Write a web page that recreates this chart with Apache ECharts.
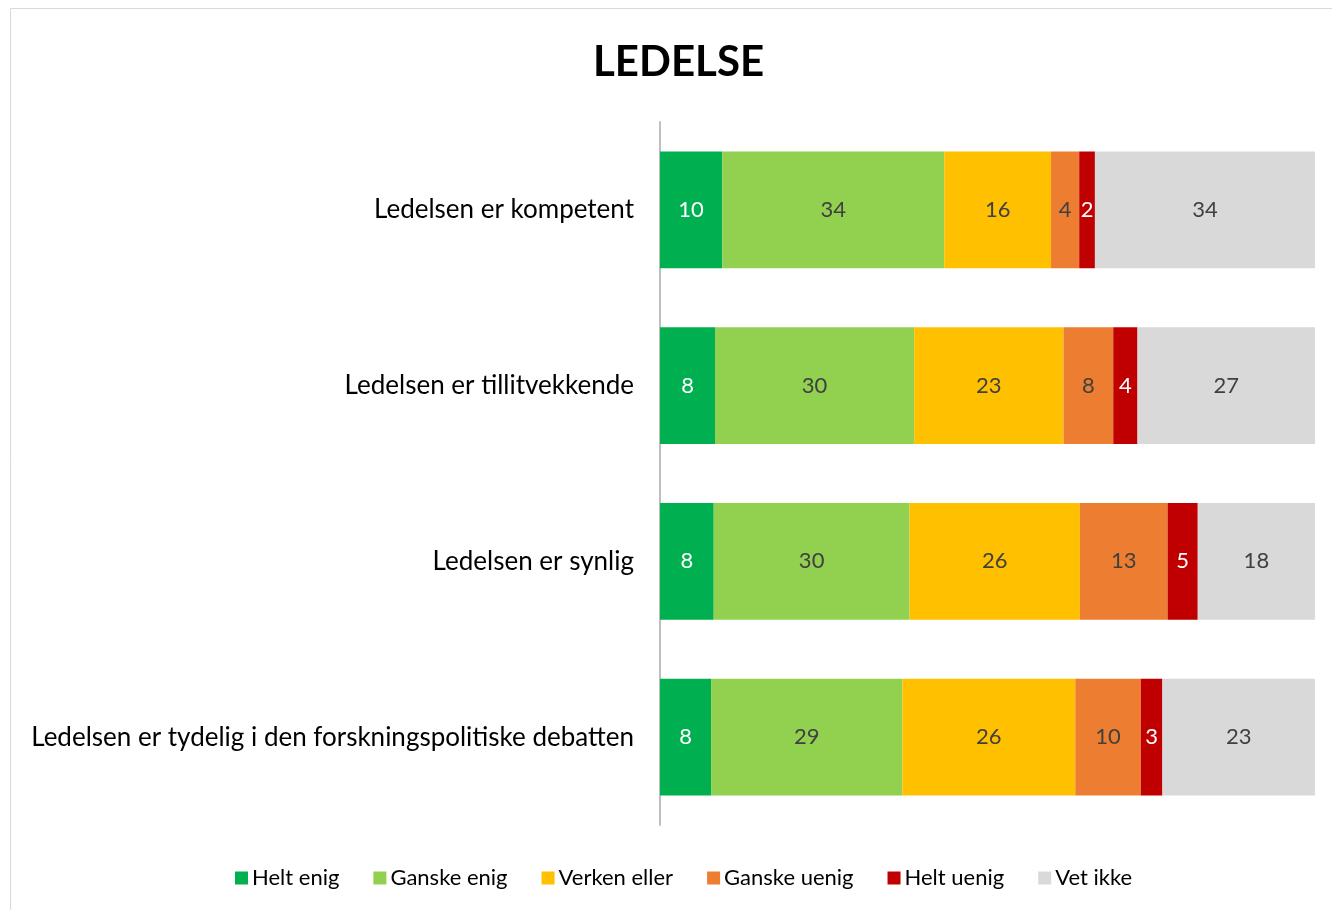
<!DOCTYPE html>
<html>
<head>
<meta charset="utf-8">
<script src="https://cdn.jsdelivr.net/npm/echarts@6/dist/echarts.min.js"></script>
<style>
  html, body { margin: 0; padding: 0; background: #fff; }
  #chart { width: 1332px; height: 910px; }
</style>
</head>
<body>
<div id="chart"></div>
<script>
const categories = [
  'Ledelsen er kompetent',
  'Ledelsen er tillitvekkende',
  'Ledelsen er synlig',
  'Ledelsen er tydelig i den forskningspolitiske debatten'
];
const seriesNames = ['Helt enig', 'Ganske enig', 'Verken eller', 'Ganske uenig', 'Helt uenig', 'Vet ikke'];
const heltEnig = [9.5, 8.4, 8.2, 7.8];
const ganskeEnig = [33.9, 30.4, 29.9, 29.2];
const verkenEller = [16.3, 22.8, 26.0, 26.4];
const ganskeUenig = [4.3, 7.6, 13.4, 10.0];
const heltUenig = [2.4, 3.7, 4.6, 3.3];
const vetIkke = [33.6, 27.1, 17.9, 23.3];

const values = [heltEnig, ganskeEnig, verkenEller, ganskeUenig, heltUenig, vetIkke];
const colors = ['#00b050', '#92d050', '#ffc000', '#ed7d31', '#c00000', '#d9d9d9'];
const labelColors = ['#ffffff', '#404040', '#404040', '#404040', '#ffffff', '#404040'];
const font = 'Lato, "Open Sans", sans-serif';

const chart = echarts.init(document.getElementById('chart'));

const series = seriesNames.map((name, i) => ({
  name: name,
  type: 'bar',
  stack: 'total',
  barWidth: '66.5%',
  data: values[i],
  itemStyle: { color: colors[i] },
  label: {
    show: true,
    position: 'inside',
    color: labelColors[i],
    fontSize: 22,
    fontFamily: font,
    formatter: p => Math.round(p.value)
  },
  emphasis: { disabled: true }
}));

chart.setOption({
  animation: false,
  color: colors,
  title: {
    text: 'LEDELSE',
    left: 588,
    top: 36,
    textStyle: { fontSize: 42, fontWeight: 'bold', color: '#000', fontFamily: font }
  },
  graphic: [{
    type: 'rect',
    shape: { x: 10.5, y: 8.5, width: 1400, height: 1000 },
    style: { fill: 'none', stroke: '#d9d9d9', lineWidth: 1 },
    silent: true
  }],
  legend: {
    bottom: 16,
    left: 230,
    itemWidth: 13,
    itemHeight: 13,
    itemGap: 34,
    icon: 'rect',
    textStyle: { fontSize: 22, color: '#000', fontFamily: font, padding: [0, 0, 0, -1] },
    data: seriesNames
  },
  grid: { left: 660, right: 17, top: 122, bottom: 85, containLabel: false },
  xAxis: {
    type: 'value',
    min: 0,
    max: 100,
    show: false
  },
  yAxis: {
    type: 'category',
    data: categories,
    inverse: true,
    axisLine: { show: true, lineStyle: { color: '#bfbfbf', width: 2 } },
    axisTick: { show: false },
    axisLabel: { fontSize: 26, color: '#000', fontFamily: font, margin: 26 }
  },
  series: series
});
</script>
</body>
</html>
